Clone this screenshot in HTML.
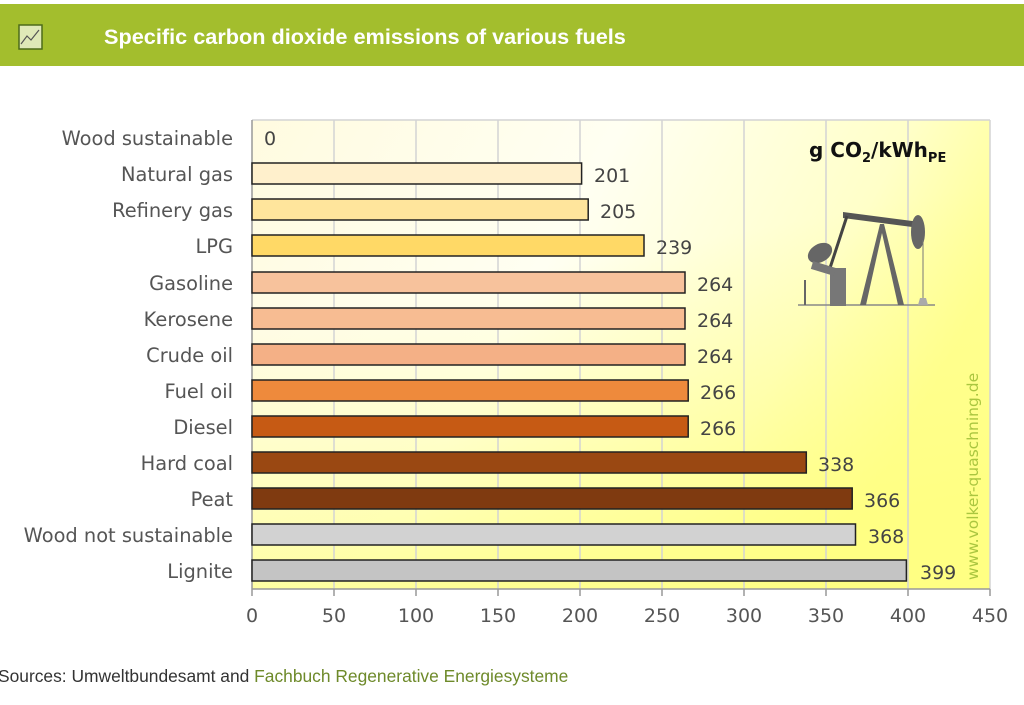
<!DOCTYPE html>
<html><head><meta charset="utf-8"><style>
body{margin:0;background:#fff;width:1024px;height:701px;overflow:hidden;font-family:"DejaVu Sans","Liberation Sans",sans-serif;}
</style></head><body>
<svg width="1024" height="701" xmlns="http://www.w3.org/2000/svg" font-family="DejaVu Sans, Liberation Sans, sans-serif">
<defs>
<linearGradient id="bg" x1="0" y1="0" x2="1" y2="0.35">
<stop offset="0" stop-color="#fffbe0"/>
<stop offset="0.45" stop-color="#fffff2"/>
<stop offset="0.8" stop-color="#ffffc8"/>
<stop offset="1" stop-color="#ffff90"/>
</linearGradient>
<linearGradient id="bg2" x1="0" y1="0" x2="0.3" y2="1">
<stop offset="0.4" stop-color="#ffff90" stop-opacity="0"/>
<stop offset="1" stop-color="#ffff80" stop-opacity="0.8"/>
</linearGradient>
</defs>
<rect x="0" y="4" width="1024" height="62" fill="#a3be2d"/>
<rect x="19" y="25" width="23" height="24" fill="#dfe9b8" stroke="#4d6b1a" stroke-width="1.5"/>
<polyline points="21,44 27,36 31,40 39,30" fill="none" stroke="#555" stroke-width="1.2"/>
<text x="104" y="44" font-family="Liberation Sans, sans-serif" font-weight="bold" font-size="21.7" fill="#fff">Specific carbon dioxide emissions of various fuels</text>
<rect x="252" y="120" width="738" height="469" fill="url(#bg)"/>
<rect x="252" y="120" width="738" height="469" fill="url(#bg2)"/>
<g stroke="#d4d4d4" stroke-width="1.5">
<line x1="334" y1="120" x2="334" y2="589"/><line x1="416" y1="120" x2="416" y2="589"/><line x1="498" y1="120" x2="498" y2="589"/><line x1="580" y1="120" x2="580" y2="589"/><line x1="662" y1="120" x2="662" y2="589"/><line x1="744" y1="120" x2="744" y2="589"/><line x1="826" y1="120" x2="826" y2="589"/><line x1="908" y1="120" x2="908" y2="589"/><line x1="990" y1="120" x2="990" y2="589"/><line x1="252" y1="120" x2="990" y2="120"/>
</g>
<line x1="252" y1="120" x2="252" y2="589" stroke="#999" stroke-width="1.5"/>
<line x1="252" y1="589" x2="990" y2="589" stroke="#999" stroke-width="1.5"/>
<g stroke="#999" stroke-width="1.5">
<line x1="252" y1="589" x2="252" y2="596"/><line x1="334" y1="589" x2="334" y2="596"/><line x1="416" y1="589" x2="416" y2="596"/><line x1="498" y1="589" x2="498" y2="596"/><line x1="580" y1="589" x2="580" y2="596"/><line x1="662" y1="589" x2="662" y2="596"/><line x1="744" y1="589" x2="744" y2="596"/><line x1="826" y1="589" x2="826" y2="596"/><line x1="908" y1="589" x2="908" y2="596"/><line x1="990" y1="589" x2="990" y2="596"/>
</g>
<g font-size="19" fill="#555" text-anchor="middle">
<text x="252" y="622">0</text><text x="334" y="622">50</text><text x="416" y="622">100</text><text x="498" y="622">150</text><text x="580" y="622">200</text><text x="662" y="622">250</text><text x="744" y="622">300</text><text x="826" y="622">350</text><text x="908" y="622">400</text><text x="990" y="622">450</text>
</g>
<g stroke="#222" stroke-width="1.5">
<rect x="252" y="163" width="329.6" height="21" fill="#fff0cc"/>
<rect x="252" y="199" width="336.2" height="21" fill="#ffe59c"/>
<rect x="252" y="235" width="392" height="21" fill="#ffd966"/>
<rect x="252" y="272" width="433" height="21" fill="#f7c29c"/>
<rect x="252" y="308" width="433" height="21" fill="#f7bc92"/>
<rect x="252" y="344" width="433" height="21" fill="#f4b086"/>
<rect x="252" y="380" width="436.2" height="21" fill="#ee8a3c"/>
<rect x="252" y="416" width="436.2" height="21" fill="#c65a14"/>
<rect x="252" y="452" width="554.3" height="21" fill="#9a4812"/>
<rect x="252" y="488" width="600.2" height="21" fill="#7f3a10"/>
<rect x="252" y="524" width="603.5" height="21" fill="#d2d2d2"/>
<rect x="252" y="560" width="654.4" height="21" fill="#c4c4c4"/>
</g>
<g font-size="19" fill="#444">
<text x="264" y="145">0</text>
<text x="594" y="182">201</text><text x="600" y="218">205</text><text x="656" y="254">239</text>
<text x="697" y="291">264</text><text x="697" y="327">264</text><text x="697" y="363">264</text>
<text x="700" y="399">266</text><text x="700" y="435">266</text><text x="818" y="471">338</text>
<text x="864" y="507">366</text><text x="868" y="543">368</text><text x="920" y="579">399</text>
</g>
<g font-size="19.4" fill="#555" text-anchor="end">
<text x="233" y="145">Wood sustainable</text><text x="233" y="181">Natural gas</text><text x="233" y="217">Refinery gas</text><text x="233" y="253">LPG</text><text x="233" y="290">Gasoline</text><text x="233" y="326">Kerosene</text><text x="233" y="362">Crude oil</text><text x="233" y="398">Fuel oil</text><text x="233" y="434">Diesel</text><text x="233" y="470">Hard coal</text><text x="233" y="506">Peat</text><text x="233" y="542">Wood not sustainable</text><text x="233" y="578">Lignite</text>
</g>
<text x="809" y="157" font-size="20" font-weight="bold" fill="#111">g CO<tspan font-size="13" dy="5">2</tspan><tspan dy="-5">/kWh</tspan><tspan font-size="13" dy="5">PE</tspan></text>
<text transform="translate(978,580) rotate(-90)" font-size="15.5" fill="#aac640">www.volker-quaschning.de</text>
<g>
<line x1="798" y1="305" x2="935" y2="305" stroke="#888" stroke-width="1.5"/>
<polygon points="843,212 920,222 920,228 843,218" fill="#555"/>
<ellipse cx="918" cy="232" rx="7" ry="17" fill="#666"/>
<line x1="923" y1="240" x2="923" y2="298" stroke="#777" stroke-width="1"/>
<polygon points="920,298 926,298 928,305 918,305" fill="#aaa"/>
<polygon points="880,224 884,224 904,305 898,305" fill="#666"/>
<polygon points="880,224 884,224 866,305 860,305" fill="#666"/>
<line x1="847" y1="216" x2="830" y2="268" stroke="#444" stroke-width="3"/>
<rect x="830" y="268" width="16" height="38" fill="#777"/>
<ellipse cx="820" cy="253" rx="13" ry="9" fill="#666" transform="rotate(-30 820 253)"/>
<line x1="812" y1="265" x2="835" y2="272" stroke="#777" stroke-width="8"/>
<line x1="805" y1="280" x2="805" y2="305" stroke="#666" stroke-width="2"/>
</g>
<text x="-2" y="682" font-family="Liberation Sans, sans-serif" font-size="17.4" fill="#333">Sources: Umweltbundesamt and <tspan fill="#6e8a2a">Fachbuch Regenerative Energiesysteme</tspan></text>
</svg>
</body></html>
